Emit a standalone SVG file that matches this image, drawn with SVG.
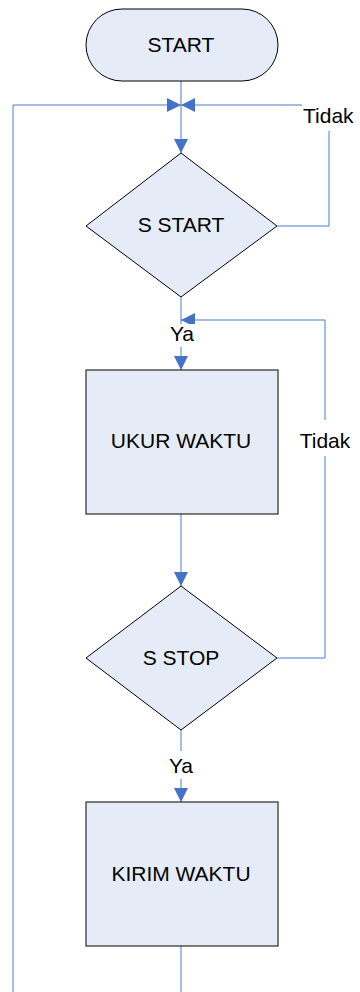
<svg xmlns="http://www.w3.org/2000/svg" width="360" height="992" viewBox="0 0 360 992">
<style>
.node{fill:#E6ECF7;stroke:#000;stroke-width:1}
.t{font-family:"Liberation Sans",Arial,sans-serif;font-size:21px;fill:#000;text-anchor:middle}
.c{fill:none;stroke:#4A7EC4;stroke-width:1}
.bg{fill:#fff;stroke:none}
</style>
<defs>
<marker id="ah" markerUnits="userSpaceOnUse" markerWidth="14" markerHeight="14" refX="14" refY="7" orient="auto" viewBox="0 0 14 14">
<path d="M0,0 L14,7 L0,14 z" fill="#4472C4"/>
</marker>
</defs>
<rect width="360" height="992" fill="#fff"/>
<g id="connectors">
<path class="c" d="M181,81 V153" marker-end="url(#ah)"/>
<path class="c" d="M13,992 V105 H181" marker-end="url(#ah)"/>
<path class="c" d="M277,226 H329 V105 H181" marker-end="url(#ah)"/>
<path class="c" d="M181,297 V370" marker-end="url(#ah)"/>
<path class="c" d="M181,514 V586" marker-end="url(#ah)"/>
<path class="c" d="M277,658 H325 V320 H181" marker-end="url(#ah)"/>
<path class="c" d="M181,730 V802" marker-end="url(#ah)"/>
<path class="c" d="M181,946 V992"/>
<rect class="bg" x="302" y="96" width="56" height="35"/>
<text class="t" x="303" y="123" style="text-anchor:start">Tidak</text>
<rect class="bg" x="297" y="420" width="56" height="36"/>
<text class="t" x="325" y="448">Tidak</text>
<rect class="bg" x="167" y="324" width="30" height="23"/>
<text class="t" x="182" y="341">Ya</text>
<rect class="bg" x="166" y="751" width="30" height="28"/>
<text class="t" x="181" y="773">Ya</text>
</g>
<g id="start">
<rect class="node" x="86" y="9" width="192" height="72" rx="36" ry="36"/>
<text class="t" x="181" y="52">START</text>
</g>
<g id="s-start">
<polygon class="node" points="181,153 277,226 181,297 86,226"/>
<text class="t" x="181" y="232">S START</text>
</g>
<g id="ukur-waktu">
<rect class="node" x="86" y="370" width="192" height="144"/>
<text class="t" x="181" y="448">UKUR WAKTU</text>
</g>
<g id="s-stop">
<polygon class="node" points="181,586 277,658 181,730 86,658"/>
<text class="t" x="181" y="665">S STOP</text>
</g>
<g id="kirim-waktu">
<rect class="node" x="86" y="802" width="192" height="144"/>
<text class="t" x="181" y="881">KIRIM WAKTU</text>
</g>
</svg>
